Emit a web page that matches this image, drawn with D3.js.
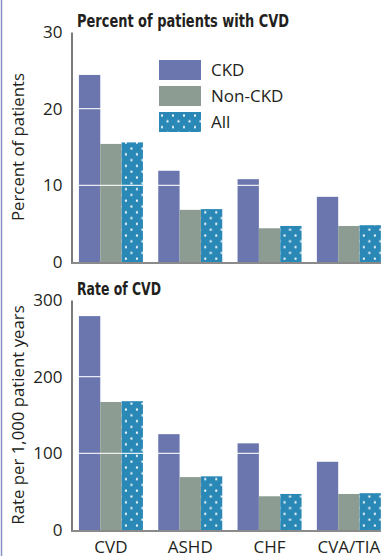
<!DOCTYPE html>
<html><head><meta charset="utf-8">
<script src="https://cdn.jsdelivr.net/npm/d3@7"></script>
<style>
html,body{margin:0;padding:0;background:#fff;}
svg{display:block;}
</style></head>
<body>
<script>
const categories = ["CVD", "ASHD", "CHF", "CVA/TIA"];
const seriesNames = ["CKD", "Non-CKD", "All"];
const percentCKD = [24.4, 11.9, 10.8, 8.5];
const percentNonCKD = [15.4, 6.8, 4.4, 4.7];
const percentAll = [15.6, 6.9, 4.7, 4.8];
const rateCKD = [279, 125, 113, 89];
const rateNonCKD = [167, 69, 44, 47];
const rateAll = [168, 70, 47, 48];
const percentTicks = [0, 10, 20, 30];
const rateTicks = [0, 100, 200, 300];

const W = 385, H = 556;
const colors = {"CKD": "#6b76ae", "Non-CKD": "#8c9c92", "All": "#2a88b6"};
const svg = d3.select("body").append("svg").attr("width", W).attr("height", H);

const defs = svg.append("defs");
const pat = defs.append("pattern").attr("id", "dots").attr("patternUnits", "userSpaceOnUse")
  .attr("width", 11).attr("height", 11.6);
pat.append("rect").attr("width", 11).attr("height", 11.6).attr("fill", colors["All"]);
pat.append("rect").attr("x", 2).attr("y", 2.5).attr("width", 2).attr("height", 2).attr("fill", "#fff");
pat.append("rect").attr("x", 7.5).attr("y", 8.3).attr("width", 2).attr("height", 2).attr("fill", "#fff");
const fills = {"CKD": colors["CKD"], "Non-CKD": colors["Non-CKD"], "All": "url(#dots)"};

// left frame line
svg.append("line").attr("x1", 1.5).attr("x2", 1.5).attr("y1", 0).attr("y2", H)
  .attr("stroke", "#8a90c6").attr("stroke-width", 1.5);

const x0 = d3.scaleBand().domain(categories).range([71, 388.8]).paddingInner(0.193).paddingOuter(0.1);
const x1 = d3.scaleBand().domain(seriesNames).range([0, x0.bandwidth()]);

const tickFont = "'Open Sans', 'Noto Sans', sans-serif";
const titleFont = "'Liberation Sans Narrow', 'DejaVu Sans Condensed', 'Liberation Sans', sans-serif";

function panel(cfg) {
  const y = d3.scaleLinear().domain([0, cfg.max]).range([cfg.bottom, cfg.top]);
  const g = svg.append("g");
  const data = categories.map((c, i) => ({cat: c, vals: seriesNames.map((s, j) => ({s, v: cfg.series[j][i]}))}));
  const grp = g.selectAll("g.grp").data(data).join("g").attr("transform", d => `translate(${x0(d.cat)},0)`);
  grp.selectAll("rect").data(d => d.vals).join("rect")
    .attr("x", d => x1(d.s)).attr("width", x1.bandwidth())
    .attr("y", d => y(d.v)).attr("height", d => y(0) - y(d.v))
    .attr("fill", d => fills[d.s]);
  // white gridlines over bars
  g.selectAll("line.grid").data(cfg.ticks.filter(t => t > 0 && t < cfg.max)).join("line")
    .attr("x1", 71).attr("x2", 381).attr("y1", d => y(d)).attr("y2", d => y(d))
    .attr("stroke", "#fff").attr("stroke-opacity", 0.85).attr("stroke-width", 1.2);
  // y axis
  const ax = d3.axisLeft(y).tickValues(cfg.ticks).tickSize(0).tickPadding(9);
  const ag = g.append("g").attr("transform", "translate(71.5,0)").call(ax);
  ag.select(".domain").attr("stroke", "#222").attr("stroke-width", 1.2);
  ag.selectAll("text").attr("font-family", tickFont).attr("font-size", 17).attr("fill", "#231f20");
  // bottom axis line
  const bx = d3.axisBottom(x0).tickSize(0).tickSizeOuter(0).tickFormat(cfg.showCats ? null : "");
  const bg = g.append("g").attr("transform", `translate(0,${cfg.bottom + 1})`).call(bx);
  bg.select(".domain").attr("d", "M71,0H381").attr("stroke", "#8a8a8a").attr("stroke-width", 2);
  bg.selectAll("text").attr("font-family", tickFont).attr("font-size", 17).attr("fill", "#231f20")
    .attr("dy", "0").attr("y", 22);
  // y label
  g.append("text").attr("transform", `translate(24,${(cfg.top + cfg.bottom) / 2}) rotate(-90)`)
    .attr("text-anchor", "middle").attr("font-family", tickFont).attr("font-size", 16.8)
    .attr("fill", "#231f20").text(cfg.ylabel);
  // title
  g.append("text").attr("x", 77).attr("y", cfg.titleY).attr("font-family", titleFont)
    .attr("font-weight", "bold").attr("font-size", 18.5).attr("fill", "#231f20")
    .attr("textLength", cfg.titleLen).attr("lengthAdjust", "spacingAndGlyphs").text(cfg.title);
}

panel({top: 32, bottom: 262, max: 30, ticks: percentTicks, series: [percentCKD, percentNonCKD, percentAll],
  title: "Percent of patients with CVD", titleY: 26.5, titleLen: 212, ylabel: "Percent of patients", showCats: false});
panel({top: 300, bottom: 530, max: 300, ticks: rateTicks, series: [rateCKD, rateNonCKD, rateAll],
  title: "Rate of CVD", titleY: 295, titleLen: 84, ylabel: "Rate per 1,000 patient years", showCats: true});

// legend
const leg = svg.append("g").selectAll("g").data(seriesNames).join("g")
  .attr("transform", (d, i) => `translate(159,${60 + i * 26})`);
leg.append("rect").attr("width", 42).attr("height", 20).attr("fill", d => fills[d]);
leg.append("text").attr("x", 52).attr("y", 16).attr("font-family", tickFont).attr("font-size", 17)
  .attr("fill", "#231f20").text(d => d);
</script>
</body></html>
